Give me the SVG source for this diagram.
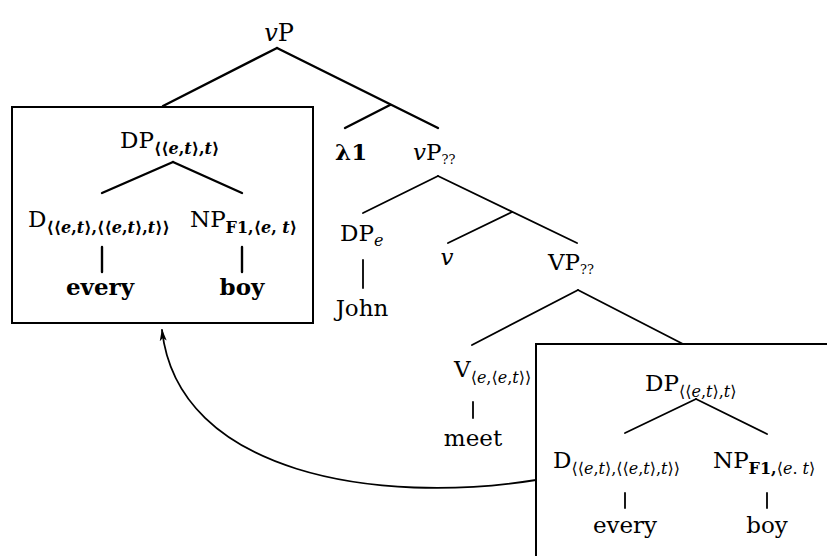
<svg xmlns="http://www.w3.org/2000/svg" width="827" height="556" viewBox="0 0 827 556">
<style>
  text { font-family: "DejaVu Serif", "DejaVu Sans", serif; font-size: 23px; fill: #000; }
  .sub { font-size: 16px; }
  .sb { font-size: 16px; font-weight: bold; }
  .i { font-style: italic; }
  .b { font-weight: bold; }
  .mid { text-anchor: middle; }
  .q { font-size: 13px; }
  .edge { stroke: #000; stroke-width: 2.4; fill: none; stroke-linecap: round; }
  .thin { stroke: #000; stroke-width: 1.8; fill: none; stroke-linecap: round; }
  .box { stroke: #000; stroke-width: 2; fill: none; }
</style>
<defs>
  <marker id="arr" viewBox="0 0 12 8" refX="11" refY="4" markerWidth="12" markerHeight="8" markerUnits="userSpaceOnUse" orient="auto">
    <path d="M0,0.5 L12,4 L0,7.5 L3,4 Z" fill="#000"/>
  </marker>
</defs>

<g id="connectors">
  <line class="edge" x1="277" y1="48" x2="163" y2="106"/>
  <line class="edge" x1="277" y1="48" x2="438" y2="128"/>
  <line class="edge" x1="390" y1="105" x2="345" y2="128"/>
  <line class="edge" x1="173" y1="162" x2="102" y2="193"/>
  <line class="edge" x1="173" y1="162" x2="242" y2="193"/>
  <line class="edge" x1="102" y1="247" x2="102" y2="272"/>
  <line class="edge" x1="242" y1="247" x2="242" y2="272"/>
  <line class="thin" x1="438" y1="176" x2="363" y2="213"/>
  <line class="thin" x1="438" y1="176" x2="577" y2="243"/>
  <line class="thin" x1="512" y1="212" x2="448" y2="243"/>
  <line class="thin" x1="363" y1="260" x2="363" y2="288"/>
  <line class="thin" x1="578" y1="290" x2="472" y2="345"/>
  <line class="thin" x1="578" y1="290" x2="683" y2="344"/>
  <line class="thin" x1="473" y1="402" x2="473" y2="418"/>
  <line class="thin" x1="696" y1="399" x2="625" y2="433"/>
  <line class="thin" x1="696" y1="399" x2="767" y2="434"/>
  <line class="thin" x1="625" y1="493" x2="625" y2="508"/>
  <line class="thin" x1="767" y1="493" x2="767" y2="508"/>
  <path class="thin" d="M536,480 C380,505 178,475 162,330" marker-end="url(#arr)"/>
</g>

<g id="box1"><rect class="box" x="12" y="107" width="301" height="216"/></g>
<g id="box2"><rect class="box" x="536" y="344" width="300" height="300"/></g>

<g id="n-vP"><text x="279" y="41" class="mid" style="font-size:24px"><tspan class="i">v</tspan>P</text></g>
<g id="n-lambda"><text x="335" y="160" class="b">λ1</text></g>
<g id="n-vPqq"><text x="413" y="160"><tspan class="i">v</tspan>P<tspan class="q" dy="4">??</tspan></text></g>

<g id="n-DP1"><text x="120" y="148">DP<tspan class="sb" dy="6">⟨⟨<tspan class="i">e</tspan>,<tspan class="i">t</tspan>⟩,<tspan class="i">t</tspan>⟩</tspan></text></g>
<g id="n-D1"><text x="28" y="227">D<tspan class="sb" dy="6">⟨⟨<tspan class="i">e</tspan>,<tspan class="i">t</tspan>⟩,⟨⟨<tspan class="i">e</tspan>,<tspan class="i">t</tspan>⟩,<tspan class="i">t</tspan>⟩⟩</tspan></text></g>
<g id="n-NP1"><text x="190" y="227">NP<tspan class="sb" dy="6">F1,⟨<tspan class="i">e</tspan>, <tspan class="i">t</tspan>⟩</tspan></text></g>
<g id="n-every1"><text x="100" y="295" class="mid b">every</text></g>
<g id="n-boy1"><text x="242" y="295" class="mid b">boy</text></g>

<g id="n-DPe"><text x="340" y="241">DP<tspan class="sub i" dy="5">e</tspan></text></g>
<g id="n-John"><text x="362" y="316" class="mid">John</text></g>
<g id="n-v"><text x="447" y="265" class="mid i">v</text></g>
<g id="n-VP"><text x="548" y="270">VP<tspan class="q" dy="4">??</tspan></text></g>

<g id="n-V"><text x="454" y="377">V<tspan class="sub" dy="6">⟨<tspan class="i">e</tspan>,⟨<tspan class="i">e</tspan>,<tspan class="i">t</tspan>⟩⟩</tspan></text></g>
<g id="n-meet"><text x="473" y="446" class="mid">meet</text></g>

<g id="n-DP2"><text x="645" y="391">DP<tspan class="sub" dy="6">⟨⟨<tspan class="i">e</tspan>,<tspan class="i">t</tspan>⟩,<tspan class="i">t</tspan>⟩</tspan></text></g>
<g id="n-D2"><text x="553" y="468">D<tspan class="sub" dy="6">⟨⟨<tspan class="i">e</tspan>,<tspan class="i">t</tspan>⟩,⟨⟨<tspan class="i">e</tspan>,<tspan class="i">t</tspan>⟩,<tspan class="i">t</tspan>⟩⟩</tspan></text></g>
<g id="n-NP2"><text x="713" y="468">NP<tspan class="sb" dy="6">F1,</tspan><tspan class="sub">⟨<tspan class="i">e</tspan>. <tspan class="i">t</tspan>⟩</tspan></text></g>
<g id="n-every2"><text x="625" y="533" class="mid">every</text></g>
<g id="n-boy2"><text x="767" y="533" class="mid">boy</text></g>
</svg>
